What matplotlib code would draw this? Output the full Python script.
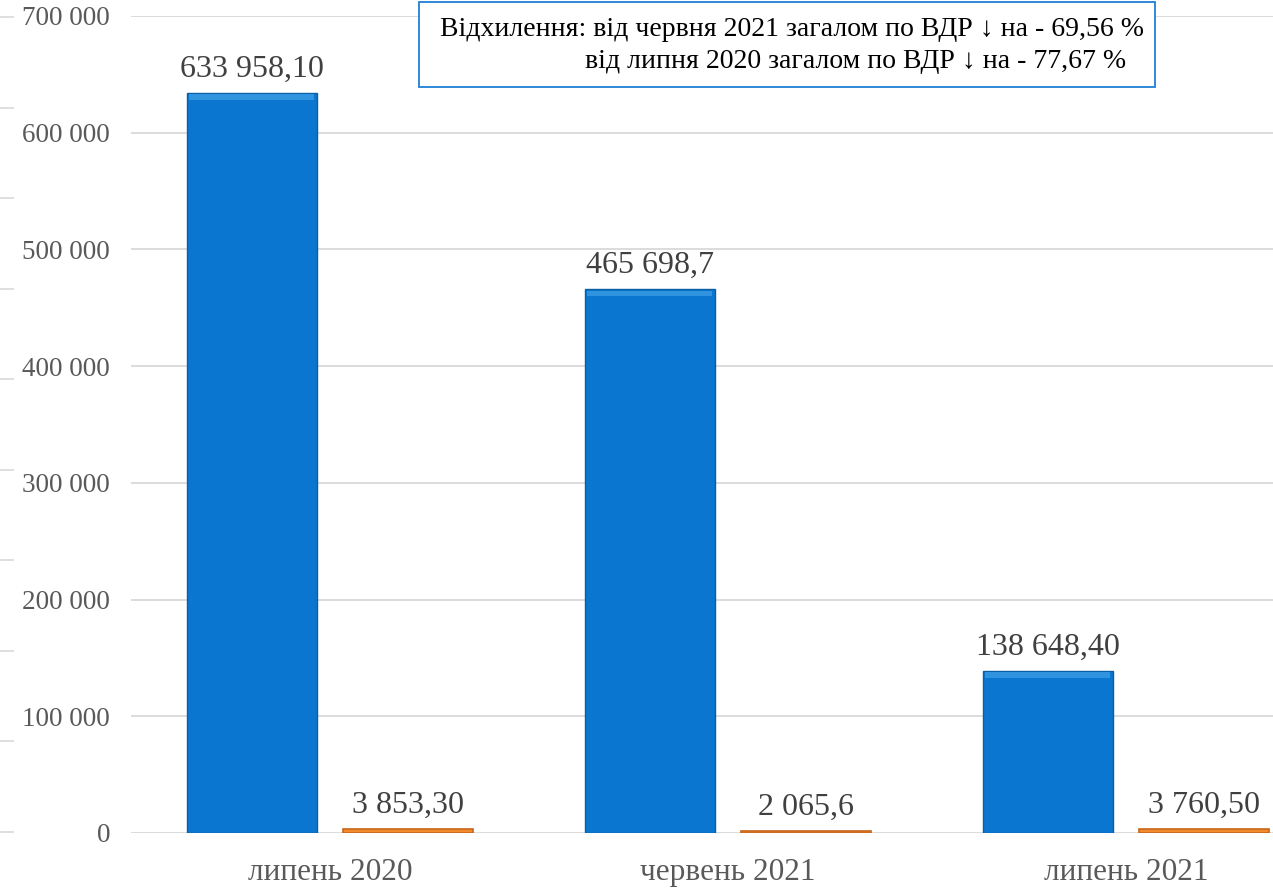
import matplotlib.pyplot as plt
from matplotlib.patches import Rectangle
import numpy as np

# --- dati ---
categories = ['липень 2020', 'червень 2021', 'липень 2021']
blue_values = [633958.10, 465698.7, 138648.40]
orange_values = [3853.30, 2065.6, 3760.50]
blue_labels = ['633 958,10', '465 698,7', '138 648,40']
orange_labels = ['3 853,30', '2 065,6', '3 760,50']
y_ticks = [0, 100000, 200000, 300000, 400000, 500000, 600000, 700000]
y_tick_labels = ['0', '100 000', '200 000', '300 000', '400 000', '500 000', '600 000', '700 000']
note_line1 = 'Відхилення: від червня 2021 загалом по ВДР ↓ на - 69,56 %'
note_line2 = 'від липня 2020 загалом по ВДР ↓ на - 77,67 %'

FONT = ['Liberation Serif', 'DejaVu Serif']
plt.rcParams['font.family'] = FONT

W, H = 1273, 890
fig = plt.figure(figsize=(W / 100, H / 100), dpi=100)

# asse principale (la parte destra esce dalla figura, come nell'originale)
ax = fig.add_axes([131 / W, 57 / H, 1194 / W, 817 / H])
x = np.arange(len(categories))
bw = 0.327
off = 0.197

ax.bar(x - off, blue_values, bw, color='#0a76cf', edgecolor='#0a5ea6', linewidth=1.0, zorder=3)
# bordo superiore più chiaro (effetto smussato), spessore fisso
bevel = 5000
ax.bar(x - off, [bevel] * len(blue_values), bw * 0.96, bottom=[v - bevel * 1.2 for v in blue_values],
       color='#2f93e0', linewidth=0, zorder=4)
ax.bar(x + off, orange_values, bw, color='#f28b2c', edgecolor='#c8661a', linewidth=1.2, zorder=3)

for xi, v, lab in zip(x, blue_values, blue_labels):
    ax.annotate(lab, (xi - off, v), xytext=(0, 7), textcoords='offset points',
                ha='center', va='bottom', fontsize=23, color='#404040')
for xi, v, lab in zip(x, orange_values, orange_labels):
    ax.annotate(lab, (xi + off, v), xytext=(0, 6), textcoords='offset points',
                ha='center', va='bottom', fontsize=23, color='#404040')

ax.set_xlim(-0.5, 2.5)
ax.set_ylim(0, 700000)
ax.set_yticks(y_ticks)
ax.set_yticklabels(y_tick_labels, fontsize=19.5, color='#595959')
ax.set_xticks(x)
ax.set_xticklabels(categories, fontsize=22.5, color='#595959')
ax.tick_params(axis='y', length=0, pad=15)
ax.tick_params(axis='x', length=0, pad=18)
ax.grid(axis='y', color='#d9d9d9', linewidth=1.3, zorder=0)
for s in ax.spines.values():
    s.set_visible(False)

# trattini grigi a sinistra
ax2 = fig.add_axes([14 / W, 58 / H, 0.0001, 815 / H])
ax2.set_ylim(0, 9)
ax2.set_yticks(range(10))
ax2.set_yticklabels([])
ax2.set_xticks([])
ax2.tick_params(axis='y', length=10, width=1.2, color='#d9d9d9', direction='out')
for s in ax2.spines.values():
    s.set_visible(False)
ax2.patch.set_visible(False)

# riquadro con la nota
box = Rectangle((419 / W, 1 - 87 / H), 736 / W, 85 / H, transform=fig.transFigure,
                facecolor='white', edgecolor='#1f7fd4', linewidth=1.3, zorder=5)
fig.patches.append(box)
fig.text(440 / W, 1 - 30 / H, note_line1, fontsize=20, color='black', va='center', ha='left', zorder=6)
fig.text(585 / W, 1 - 62 / H, note_line2, fontsize=20, color='black', va='center', ha='left', zorder=6)

fig.savefig('out.png', dpi=100)
